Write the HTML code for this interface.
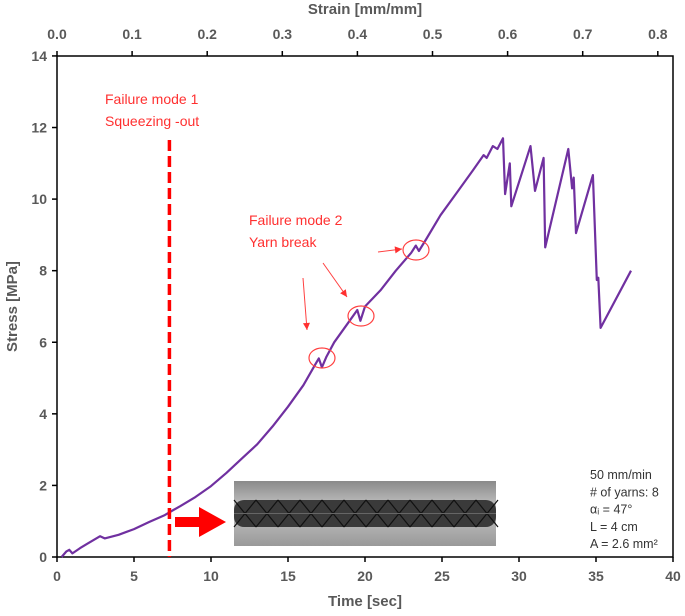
<!DOCTYPE html>
<html><head><meta charset="utf-8"><style>
body{margin:0;background:#fff}
svg{display:block;font-family:"Liberation Sans",sans-serif}
</style></head><body>
<svg id="chart" width="685" height="616" viewBox="0 0 685 616">
<defs>
<linearGradient id="pg" x1="0" y1="0" x2="0" y2="1">
<stop offset="0" stop-color="#8a8a8a"/><stop offset="0.3" stop-color="#b5b5b5"/><stop offset="0.7" stop-color="#b0b0b0"/><stop offset="1" stop-color="#999"/></linearGradient>
</defs>
<g id="axes"></g>
<g id="series"></g>
<g id="annot"></g>
</svg>
<script>
const times=[0.3,0.6,0.8,1.0,1.5,2,2.8,3.1,4,5,6,7,7.5,8,9,10,11,12,13,14,15,16,16.8,17.0,17.2,17.5,18,19,19.5,19.7,20,21,22,23,23.3,23.5,24,24.9,26,27,27.7,27.9,28.3,28.6,28.96,29.1,29.4,29.5,30.75,31.04,31.6,31.7,33.2,33.45,33.55,33.7,34.8,35.05,35.15,35.3,37.27];
const stress=[0,0.15,0.2,0.1,0.25,0.38,0.58,0.52,0.62,0.78,0.98,1.17,1.3,1.42,1.68,1.98,2.35,2.75,3.15,3.65,4.2,4.8,5.4,5.55,5.3,5.6,6.0,6.6,6.9,6.6,7.0,7.45,8.0,8.5,8.7,8.55,8.9,9.55,10.2,10.8,11.23,11.15,11.48,11.4,11.7,10.14,11.0,9.8,11.48,10.23,11.15,8.65,11.4,10.3,10.6,9.05,10.67,7.74,7.8,6.4,8.0];
const xTicks=[0,5,10,15,20,25,30,35,40];
const yTicks=[0,2,4,6,8,10,12,14];
const strainTicks=[0.0,0.1,0.2,0.3,0.4,0.5,0.6,0.7,0.8];
const X0=57,XS=15.4,Y0=557,YS=35.79,TOPY=56;
function sx(t){return X0+t*XS}
function sy(s){return Y0-s*YS}
function stx(e){return X0+e*751}
const NS='http://www.w3.org/2000/svg';
function mk(tag,attrs,parent,text){const e=document.createElementNS(NS,tag);for(const k in attrs)e.setAttribute(k,attrs[k]);if(text!==undefined)e.textContent=text;parent.appendChild(e);return e;}
const ax=document.getElementById('axes');
const R=sx(40);
let fr=mk('path',{d:`M${X0},${TOPY}H${R}V${Y0}H${X0}Z`,fill:'none',stroke:'#000','stroke-width':1.5},ax);


xTicks.forEach(t=>{
 const l=mk('line',{x1:sx(t),x2:sx(t),y1:Y0,y2:Y0+5,stroke:'#000','stroke-width':1.5},ax);
 
 
 const tx=mk('text',{x:sx(t),y:Y0+24,'text-anchor':'middle','font-size':14,'font-weight':'bold',fill:'#595959'},ax,String(t));
 
 
});
yTicks.forEach(v=>{
 const l=mk('line',{x1:X0-5,x2:X0,y1:sy(v),y2:sy(v),stroke:'#000','stroke-width':1.5},ax);
 
 
 const tx=mk('text',{x:X0-10,y:sy(v)+5,'text-anchor':'end','font-size':14,'font-weight':'bold',fill:'#595959'},ax,String(v));
 
 
});
strainTicks.forEach(v=>{
 const l=mk('line',{x1:stx(v),x2:stx(v),y1:TOPY-5,y2:TOPY,stroke:'#000','stroke-width':1.5},ax);
 
 
 const tx=mk('text',{x:stx(v),y:TOPY-17,'text-anchor':'middle','font-size':14,'font-weight':'bold',fill:'#595959'},ax,v.toFixed(1));
 
 
});
let t1=mk('text',{x:(X0+R)/2,y:606,'text-anchor':'middle','font-size':15,'font-weight':'bold',fill:'#595959'},ax,'Time [sec]');


let t2=mk('text',{x:(X0+R)/2,y:14,'text-anchor':'middle','font-size':15,'font-weight':'bold',fill:'#595959'},ax,'Strain [mm/mm]');


let t3=mk('text',{x:0,y:0,transform:`translate(17,${(TOPY+Y0)/2}) rotate(-90)`,'text-anchor':'middle','font-size':15,'font-weight':'bold',fill:'#595959'},ax,'Stress [MPa]');



const an=document.getElementById('annot');
// photo
let ph=mk('g',{},an);


mk('rect',{x:234,y:481,width:262,height:65,fill:'url(#pg)'},ph);
mk('rect',{x:234,y:500,width:262,height:27,rx:10,fill:'#3a3a3a'},ph);
let d='';for(let x=234;x<496;x+=22){d+=`M${x},500 L${x+22},527 M${x},527 L${x+22},500 `;}
mk('path',{d:d,stroke:'#111','stroke-width':1.2,fill:'none'},ph);
mk('path',{d:'M234,513.5H496',stroke:'#666','stroke-width':1,fill:'none'},ph);
// dashed line
const xd=sx(7.3);
let dl=mk('line',{x1:xd,x2:xd,y1:140,y2:Y0,stroke:'#ff0000','stroke-width':3.5,'stroke-dasharray':'11,5'},an);


let ar=mk('path',{d:'M175,517H199V507L226,522L199,537V527H175Z',fill:'#ff0000'},an);


let f1=mk('text',{x:105,y:104,'font-size':14,fill:'#ff3030'},an,'Failure mode 1');


let f1b=mk('text',{x:105,y:126,'font-size':14,fill:'#ff3030'},an,'Squeezing -out');


let f2=mk('text',{x:249,y:225,'font-size':14,fill:'#ff3030'},an,'Failure mode 2');


let f2b=mk('text',{x:249,y:247,'font-size':14,fill:'#ff3030'},an,'Yarn break');


[[303,278,307,330],[323,263,347,297],[378,252,402,249]].forEach(a=>{
 const g=mk('g',{},an);
 
 
 mk('line',{x1:a[0],y1:a[1],x2:a[2],y2:a[3],stroke:'#ff4040','stroke-width':1},g);
 const ang=Math.atan2(a[3]-a[1],a[2]-a[0]);const L=7,W=3.5;
 const bx=a[2]-L*Math.cos(ang),by=a[3]-L*Math.sin(ang);
 mk('path',{d:`M${a[2]},${a[3]}L${bx-W*Math.sin(ang)},${by+W*Math.cos(ang)}L${bx+W*Math.sin(ang)},${by-W*Math.cos(ang)}Z`,fill:'#ff3030'},g);
});
[[322,358],[361,316],[416,250]].forEach(c=>{
 const e=mk('ellipse',{cx:c[0],cy:c[1],rx:13,ry:10,fill:'none',stroke:'#ff4040','stroke-width':1.2},an);
 
 
});
const info=['50 mm/min','# of yarns: 8','α\u1D62  = 47°','L   = 4 cm','A  = 2.6 mm²'];
const ig=mk('g',{},an);


info.forEach((s,i)=>mk('text',{x:590,y:479+i*17.3,'font-size':12.5,fill:'#333'},ig,s));

const sr=document.getElementById('series');
let pts=times.map((t,i)=>`${sx(t).toFixed(1)},${sy(stress[i]).toFixed(1)}`).join(' ');
let pl=mk('polyline',{points:pts,fill:'none',stroke:'#7030a0','stroke-width':2.2,'stroke-linejoin':'round'},sr);


</script>
</body></html>
